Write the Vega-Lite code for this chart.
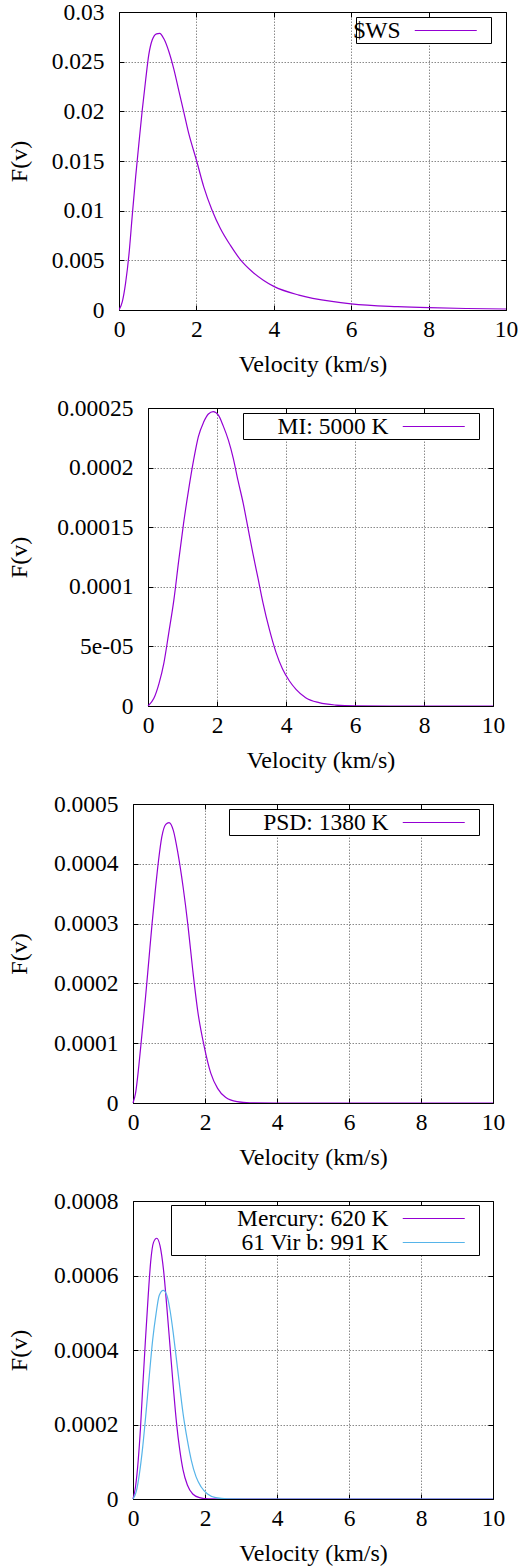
{
  "$schema": "https://vega.github.io/schema/vega-lite/v6.json",
  "padding": {"left": 7, "top": 0, "right": 0, "bottom": 0},
  "spacing": 19,
  "background": "white",
  "config": {
    "font": "Liberation Serif",
    "view": {"stroke": null},
    "axis": {
      "labelFont": "Liberation Serif", "titleFont": "Liberation Serif",
      "labelFontSize": 23.5, "titleFontSize": 24,
      "labelColor": "black", "titleColor": "black", "titleFontWeight": "normal",
      "ticks": true, "tickSize": -5, "tickColor": "black", "tickWidth": 1,
      "domain": true, "domainColor": "black", "domainWidth": 1, "grid": true,
      "gridColor": "#8a8a8a", "gridDash": [1.5, 1.5], "gridWidth": 1,
      "labelFlush": false, "labelOverlap": false
    },
    "axisX": {"labelPadding": 12, "titlePadding": 12},
    "axisY": {"labelPadding": 20, "titlePadding": 0},
    "legend": {
      "orient": "none",
      "strokeColor": "black", "fillColor": "white", "padding": 1,
      "symbolType": "M0,0H6.2", "symbolSize": 552.25, "symbolStrokeWidth": 1.2,
      "symbolDash": [62, 40],
      "labelFont": "Liberation Serif", "labelFontSize": 23.5, "labelColor": "black",
      "labelAlign": "right", "labelOffset": -26.75, "labelLimit": 400, "rowPadding": 0
    },
    "line": {"strokeWidth": 1.2, "interpolate": "monotone"}
  },
  "resolve": {"scale": {"color": "independent"}, "legend": {"color": "independent"}},
  "datasets": {
    "p1": [
      {"series": "$WS", "v": 0, "F": 0},
      {"series": "$WS", "v": 0.086, "F": 0.00084},
      {"series": "$WS", "v": 0.17, "F": 0.0027},
      {"series": "$WS", "v": 0.26, "F": 0.0057},
      {"series": "$WS", "v": 0.34, "F": 0.0094},
      {"series": "$WS", "v": 0.43, "F": 0.0134},
      {"series": "$WS", "v": 0.515, "F": 0.0168},
      {"series": "$WS", "v": 0.6, "F": 0.0201},
      {"series": "$WS", "v": 0.69, "F": 0.0232},
      {"series": "$WS", "v": 0.77, "F": 0.0257},
      {"series": "$WS", "v": 0.86, "F": 0.0272},
      {"series": "$WS", "v": 0.97, "F": 0.0278},
      {"series": "$WS", "v": 1.05, "F": 0.02785},
      {"series": "$WS", "v": 1.16, "F": 0.0273},
      {"series": "$WS", "v": 1.29, "F": 0.026},
      {"series": "$WS", "v": 1.42, "F": 0.0242},
      {"series": "$WS", "v": 1.55, "F": 0.022},
      {"series": "$WS", "v": 1.67, "F": 0.02},
      {"series": "$WS", "v": 1.8, "F": 0.0178},
      {"series": "$WS", "v": 2.0, "F": 0.0151},
      {"series": "$WS", "v": 2.19, "F": 0.0124},
      {"series": "$WS", "v": 2.4, "F": 0.0101},
      {"series": "$WS", "v": 2.62, "F": 0.0082},
      {"series": "$WS", "v": 2.88, "F": 0.0065},
      {"series": "$WS", "v": 3.13, "F": 0.0051},
      {"series": "$WS", "v": 3.43, "F": 0.0039},
      {"series": "$WS", "v": 3.73, "F": 0.003},
      {"series": "$WS", "v": 4.0, "F": 0.00238},
      {"series": "$WS", "v": 4.65, "F": 0.0015},
      {"series": "$WS", "v": 5.5, "F": 0.00086},
      {"series": "$WS", "v": 6.0, "F": 0.00062},
      {"series": "$WS", "v": 7.2, "F": 0.00034},
      {"series": "$WS", "v": 8.0, "F": 0.00023},
      {"series": "$WS", "v": 9.0, "F": 0.00015},
      {"series": "$WS", "v": 10.0, "F": 0.0001}
    ],
    "p2": [
      {"series": "MI: 5000 K", "v": 0, "F": 0},
      {"series": "MI: 5000 K", "v": 0.17, "F": 6.4e-6},
      {"series": "MI: 5000 K", "v": 0.32, "F": 1.9e-5},
      {"series": "MI: 5000 K", "v": 0.46, "F": 3.6e-5},
      {"series": "MI: 5000 K", "v": 0.6, "F": 6.1e-5},
      {"series": "MI: 5000 K", "v": 0.75, "F": 8.9e-5},
      {"series": "MI: 5000 K", "v": 0.89, "F": 1.22e-4},
      {"series": "MI: 5000 K", "v": 1.03, "F": 1.53e-4},
      {"series": "MI: 5000 K", "v": 1.18, "F": 1.82e-4},
      {"series": "MI: 5000 K", "v": 1.32, "F": 2.06e-4},
      {"series": "MI: 5000 K", "v": 1.46, "F": 2.26e-4},
      {"series": "MI: 5000 K", "v": 1.61, "F": 2.38e-4},
      {"series": "MI: 5000 K", "v": 1.75, "F": 2.45e-4},
      {"series": "MI: 5000 K", "v": 1.89, "F": 2.47e-4},
      {"series": "MI: 5000 K", "v": 2.04, "F": 2.44e-4},
      {"series": "MI: 5000 K", "v": 2.18, "F": 2.35e-4},
      {"series": "MI: 5000 K", "v": 2.33, "F": 2.23e-4},
      {"series": "MI: 5000 K", "v": 2.47, "F": 2.08e-4},
      {"series": "MI: 5000 K", "v": 2.61, "F": 1.89e-4},
      {"series": "MI: 5000 K", "v": 2.76, "F": 1.7e-4},
      {"series": "MI: 5000 K", "v": 2.9, "F": 1.49e-4},
      {"series": "MI: 5000 K", "v": 3.04, "F": 1.28e-4},
      {"series": "MI: 5000 K", "v": 3.19, "F": 1.07e-4},
      {"series": "MI: 5000 K", "v": 3.33, "F": 8.7e-5},
      {"series": "MI: 5000 K", "v": 3.52, "F": 6.4e-5},
      {"series": "MI: 5000 K", "v": 3.71, "F": 4.5e-5},
      {"series": "MI: 5000 K", "v": 3.9, "F": 3.1e-5},
      {"series": "MI: 5000 K", "v": 4.1, "F": 2.1e-5},
      {"series": "MI: 5000 K", "v": 4.29, "F": 1.4e-5},
      {"series": "MI: 5000 K", "v": 4.57, "F": 7e-6},
      {"series": "MI: 5000 K", "v": 4.96, "F": 2.8e-6},
      {"series": "MI: 5000 K", "v": 5.44, "F": 8e-7},
      {"series": "MI: 5000 K", "v": 6.0, "F": 1e-7},
      {"series": "MI: 5000 K", "v": 7.0, "F": 0},
      {"series": "MI: 5000 K", "v": 10.0, "F": 0}
    ],
    "p3": [
      {"series": "PSD: 1380 K", "v": 0, "F": 0},
      {"series": "PSD: 1380 K", "v": 0.07, "F": 1.6e-5},
      {"series": "PSD: 1380 K", "v": 0.16, "F": 6.1e-5},
      {"series": "PSD: 1380 K", "v": 0.25, "F": 1.16e-4},
      {"series": "PSD: 1380 K", "v": 0.35, "F": 1.78e-4},
      {"series": "PSD: 1380 K", "v": 0.44, "F": 2.39e-4},
      {"series": "PSD: 1380 K", "v": 0.53, "F": 3.0e-4},
      {"series": "PSD: 1380 K", "v": 0.62, "F": 3.56e-4},
      {"series": "PSD: 1380 K", "v": 0.71, "F": 4.06e-4},
      {"series": "PSD: 1380 K", "v": 0.8, "F": 4.45e-4},
      {"series": "PSD: 1380 K", "v": 0.91, "F": 4.66e-4},
      {"series": "PSD: 1380 K", "v": 1.0, "F": 4.69e-4},
      {"series": "PSD: 1380 K", "v": 1.12, "F": 4.56e-4},
      {"series": "PSD: 1380 K", "v": 1.25, "F": 4.17e-4},
      {"series": "PSD: 1380 K", "v": 1.39, "F": 3.62e-4},
      {"series": "PSD: 1380 K", "v": 1.53, "F": 2.95e-4},
      {"series": "PSD: 1380 K", "v": 1.66, "F": 2.22e-4},
      {"series": "PSD: 1380 K", "v": 1.8, "F": 1.53e-4},
      {"series": "PSD: 1380 K", "v": 1.98, "F": 9.4e-5},
      {"series": "PSD: 1380 K", "v": 2.16, "F": 5.0e-5},
      {"series": "PSD: 1380 K", "v": 2.35, "F": 2.45e-5},
      {"series": "PSD: 1380 K", "v": 2.57, "F": 9.5e-6},
      {"series": "PSD: 1380 K", "v": 2.89, "F": 2.2e-6},
      {"series": "PSD: 1380 K", "v": 3.25, "F": 3e-7},
      {"series": "PSD: 1380 K", "v": 4.0, "F": 0},
      {"series": "PSD: 1380 K", "v": 10.0, "F": 0}
    ],
    "p4": [
      {"series": "Mercury: 620 K", "v": 0, "F": 0},
      {"series": "Mercury: 620 K", "v": 0.07, "F": 3.3e-5},
      {"series": "Mercury: 620 K", "v": 0.145, "F": 1.04e-4},
      {"series": "Mercury: 620 K", "v": 0.21, "F": 1.94e-4},
      {"series": "Mercury: 620 K", "v": 0.27, "F": 3.0e-4},
      {"series": "Mercury: 620 K", "v": 0.345, "F": 4.26e-4},
      {"series": "Mercury: 620 K", "v": 0.42, "F": 5.42e-4},
      {"series": "Mercury: 620 K", "v": 0.49, "F": 6.36e-4},
      {"series": "Mercury: 620 K", "v": 0.57, "F": 6.89e-4},
      {"series": "Mercury: 620 K", "v": 0.66, "F": 7.0e-4},
      {"series": "Mercury: 620 K", "v": 0.75, "F": 6.8e-4},
      {"series": "Mercury: 620 K", "v": 0.85, "F": 6.13e-4},
      {"series": "Mercury: 620 K", "v": 0.94, "F": 5.15e-4},
      {"series": "Mercury: 620 K", "v": 1.03, "F": 4.08e-4},
      {"series": "Mercury: 620 K", "v": 1.12, "F": 3.0e-4},
      {"series": "Mercury: 620 K", "v": 1.21, "F": 2.03e-4},
      {"series": "Mercury: 620 K", "v": 1.3, "F": 1.31e-4},
      {"series": "Mercury: 620 K", "v": 1.39, "F": 7.8e-5},
      {"series": "Mercury: 620 K", "v": 1.51, "F": 3.75e-5},
      {"series": "Mercury: 620 K", "v": 1.66, "F": 1.34e-5},
      {"series": "Mercury: 620 K", "v": 1.85, "F": 3.6e-6},
      {"series": "Mercury: 620 K", "v": 2.1, "F": 3e-7},
      {"series": "Mercury: 620 K", "v": 2.6, "F": 0},
      {"series": "Mercury: 620 K", "v": 10.0, "F": 0},
      {"series": "61 Vir b: 991 K", "v": 0, "F": 0},
      {"series": "61 Vir b: 991 K", "v": 0.09, "F": 2.0e-5},
      {"series": "61 Vir b: 991 K", "v": 0.18, "F": 6.9e-5},
      {"series": "61 Vir b: 991 K", "v": 0.27, "F": 1.4e-4},
      {"series": "61 Vir b: 991 K", "v": 0.36, "F": 2.3e-4},
      {"series": "61 Vir b: 991 K", "v": 0.45, "F": 3.28e-4},
      {"series": "61 Vir b: 991 K", "v": 0.545, "F": 4.26e-4},
      {"series": "61 Vir b: 991 K", "v": 0.64, "F": 4.97e-4},
      {"series": "61 Vir b: 991 K", "v": 0.73, "F": 5.47e-4},
      {"series": "61 Vir b: 991 K", "v": 0.84, "F": 5.6e-4},
      {"series": "61 Vir b: 991 K", "v": 0.94, "F": 5.47e-4},
      {"series": "61 Vir b: 991 K", "v": 1.03, "F": 5.06e-4},
      {"series": "61 Vir b: 991 K", "v": 1.12, "F": 4.44e-4},
      {"series": "61 Vir b: 991 K", "v": 1.21, "F": 3.72e-4},
      {"series": "61 Vir b: 991 K", "v": 1.3, "F": 3.0e-4},
      {"series": "61 Vir b: 991 K", "v": 1.39, "F": 2.3e-4},
      {"series": "61 Vir b: 991 K", "v": 1.51, "F": 1.58e-4},
      {"series": "61 Vir b: 991 K", "v": 1.62, "F": 1.04e-4},
      {"series": "61 Vir b: 991 K", "v": 1.75, "F": 6.0e-5},
      {"series": "61 Vir b: 991 K", "v": 1.89, "F": 3.3e-5},
      {"series": "61 Vir b: 991 K", "v": 2.07, "F": 1.34e-5},
      {"series": "61 Vir b: 991 K", "v": 2.3, "F": 3.6e-6},
      {"series": "61 Vir b: 991 K", "v": 2.62, "F": 4e-7},
      {"series": "61 Vir b: 991 K", "v": 3.2, "F": 0},
      {"series": "61 Vir b: 991 K", "v": 10.0, "F": 0}
    ]
  },
  "vconcat": [
    {
      "width": 387, "height": 298,
      "data": {"name": "p1"},
      "resolve": {"axis": {"x": "independent", "y": "independent"}},
      "layer": [
        {
          "mark": {"type": "line", "clip": true},
          "encoding": {
            "x": {"field": "v", "type": "quantitative", "scale": {"domain": [0, 10], "nice": false, "range": [0, 387]},
              "axis": {"title": "Velocity (km/s)", "values": [0, 2, 4, 6, 8, 10],
                "gridOpacity": {"condition": {"test": "datum.value <= 0 || datum.value >= 10", "value": 0}, "value": 1}}},
            "y": {"field": "F", "type": "quantitative", "scale": {"domain": [0, 0.03], "nice": false},
              "axis": {"title": "F(v)", "values": [0, 0.005, 0.01, 0.015, 0.02, 0.025, 0.03], "format": "~g",
                "minExtent": 88, "maxExtent": 88,
                "gridOpacity": {"condition": {"test": "datum.value <= 0 || datum.value >= 0.03", "value": 0}, "value": 1}}},
            "color": {"field": "series", "type": "nominal", "scale": {"domain": ["$WS"], "range": ["#9400D3"]},
              "legend": {"title": null, "legendX": 237, "legendY": 5, "symbolOffset": 45.25}}
          }
        },
        {
          "mark": {"type": "line", "opacity": 0},
          "encoding": {
            "x": {"field": "v", "type": "quantitative",
              "axis": {"orient": "top", "labels": false, "title": null, "grid": false, "values": [0, 2, 4, 6, 8, 10], "minExtent": 0, "maxExtent": 0}},
            "y": {"field": "F", "type": "quantitative",
              "axis": {"orient": "right", "labels": false, "title": null, "grid": false, "values": [0, 0.005, 0.01, 0.015, 0.02, 0.025, 0.03], "minExtent": 0, "maxExtent": 0}}
          }
        }
      ]
    },
    {
      "width": 374, "height": 298,
      "data": {"name": "p2"},
      "resolve": {"axis": {"x": "independent", "y": "independent"}},
      "layer": [
        {
          "mark": {"type": "line", "clip": true},
          "encoding": {
            "x": {"field": "v", "type": "quantitative", "scale": {"domain": [0, 10], "nice": false, "range": [29, 374]},
              "axis": {"title": "Velocity (km/s)", "values": [0, 2, 4, 6, 8, 10],
                "gridOpacity": {"condition": {"test": "datum.value <= 0 || datum.value >= 10", "value": 0}, "value": 1}}},
            "y": {"field": "F", "type": "quantitative", "scale": {"domain": [0, 0.00025], "nice": false},
              "axis": {"title": "F(v)", "values": [0, 0.00005, 0.0001, 0.00015, 0.0002, 0.00025], "offset": -29,
                "labelExpr": "datum.value > 0 && datum.value < 0.00009 ? '5e-05' : format(datum.value, '~g')",
                "minExtent": 117, "maxExtent": 117,
                "gridOpacity": {"condition": {"test": "datum.value <= 0 || datum.value >= 0.00025", "value": 0}, "value": 1}}},
            "color": {"field": "series", "type": "nominal", "scale": {"domain": ["MI: 5000 K"], "range": ["#9400D3"]},
              "legend": {"title": null, "legendX": 124, "legendY": 5, "symbolOffset": 146.25}}
          }
        },
        {
          "mark": {"type": "line", "opacity": 0},
          "encoding": {
            "x": {"field": "v", "type": "quantitative",
              "axis": {"orient": "top", "labels": false, "title": null, "grid": false, "values": [0, 2, 4, 6, 8, 10], "minExtent": 0, "maxExtent": 0}},
            "y": {"field": "F", "type": "quantitative",
              "axis": {"orient": "right", "labels": false, "title": null, "grid": false, "values": [0, 0.00005, 0.0001, 0.00015, 0.0002, 0.00025], "minExtent": 0, "maxExtent": 0}}
          }
        }
      ]
    },
    {
      "width": 374, "height": 299,
      "data": {"name": "p3"},
      "resolve": {"axis": {"x": "independent", "y": "independent"}},
      "layer": [
        {
          "mark": {"type": "line", "clip": true},
          "encoding": {
            "x": {"field": "v", "type": "quantitative", "scale": {"domain": [0, 10], "nice": false, "range": [14, 374]},
              "axis": {"title": "Velocity (km/s)", "values": [0, 2, 4, 6, 8, 10],
                "gridOpacity": {"condition": {"test": "datum.value <= 0 || datum.value >= 10", "value": 0}, "value": 1}}},
            "y": {"field": "F", "type": "quantitative", "scale": {"domain": [0, 0.0005], "nice": false},
              "axis": {"title": "F(v)", "values": [0, 0.0001, 0.0002, 0.0003, 0.0004, 0.0005], "format": "~g", "offset": -14,
                "minExtent": 102, "maxExtent": 102,
                "gridOpacity": {"condition": {"test": "datum.value <= 0 || datum.value >= 0.0005", "value": 0}, "value": 1}}},
            "color": {"field": "series", "type": "nominal", "scale": {"domain": ["PSD: 1380 K"], "range": ["#9400D3"]},
              "legend": {"title": null, "legendX": 110, "legendY": 5, "symbolOffset": 160.25}}
          }
        },
        {
          "mark": {"type": "line", "opacity": 0},
          "encoding": {
            "x": {"field": "v", "type": "quantitative",
              "axis": {"orient": "top", "labels": false, "title": null, "grid": false, "values": [0, 2, 4, 6, 8, 10], "minExtent": 0, "maxExtent": 0}},
            "y": {"field": "F", "type": "quantitative",
              "axis": {"orient": "right", "labels": false, "title": null, "grid": false, "values": [0, 0.0001, 0.0002, 0.0003, 0.0004, 0.0005], "minExtent": 0, "maxExtent": 0}}
          }
        }
      ]
    },
    {
      "width": 374, "height": 298,
      "data": {"name": "p4"},
      "resolve": {"axis": {"x": "independent", "y": "independent"}},
      "layer": [
        {
          "mark": {"type": "line", "clip": true},
          "encoding": {
            "x": {"field": "v", "type": "quantitative", "scale": {"domain": [0, 10], "nice": false, "range": [14, 374]},
              "axis": {"title": "Velocity (km/s)", "values": [0, 2, 4, 6, 8, 10],
                "gridOpacity": {"condition": {"test": "datum.value <= 0 || datum.value >= 10", "value": 0}, "value": 1}}},
            "y": {"field": "F", "type": "quantitative", "scale": {"domain": [0, 0.0008], "nice": false},
              "axis": {"title": "F(v)", "values": [0, 0.0002, 0.0004, 0.0006, 0.0008], "format": "~g", "offset": -14,
                "minExtent": 102, "maxExtent": 102,
                "gridOpacity": {"condition": {"test": "datum.value <= 0 || datum.value >= 0.0008", "value": 0}, "value": 1}}},
            "color": {"field": "series", "type": "nominal", "scale": {"domain": ["Mercury: 620 K", "61 Vir b: 991 K"], "range": ["#9400D3", "#56B4E9"]},
              "legend": {"title": null, "legendX": 52, "legendY": 4, "symbolOffset": 218.25}}
          }
        },
        {
          "mark": {"type": "line", "opacity": 0},
          "encoding": {
            "x": {"field": "v", "type": "quantitative",
              "axis": {"orient": "top", "labels": false, "title": null, "grid": false, "values": [0, 2, 4, 6, 8, 10], "minExtent": 0, "maxExtent": 0}},
            "y": {"field": "F", "type": "quantitative",
              "axis": {"orient": "right", "labels": false, "title": null, "grid": false, "values": [0, 0.0002, 0.0004, 0.0006, 0.0008], "minExtent": 0, "maxExtent": 0}}
          }
        }
      ]
    }
  ]
}
